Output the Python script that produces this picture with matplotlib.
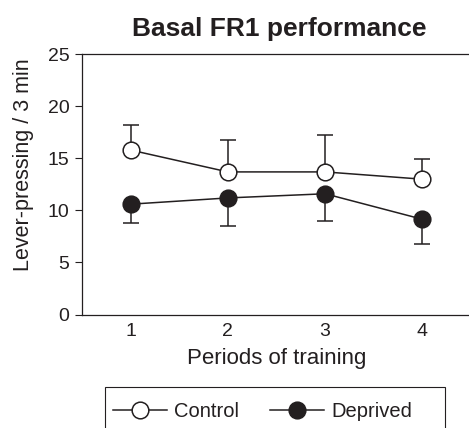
import matplotlib
matplotlib.use("Agg")
from matplotlib import pyplot as plt
from matplotlib.patches import Rectangle

# Data
periods = [1, 2, 3, 4]
control = [15.8, 13.7, 13.7, 13.0]
control_err = [2.4, 3.1, 3.5, 1.9]      # only drawn upward
deprived = [10.6, 11.2, 11.6, 9.15]
deprived_err = [1.8, 2.7, 2.6, 2.35]    # only drawn downward

ink = '#231f20'
plt.rcParams['font.family'] = ['Liberation Sans', 'DejaVu Sans']
plt.rcParams['text.color'] = ink
plt.rcParams['axes.labelcolor'] = ink
plt.rcParams['xtick.color'] = ink
plt.rcParams['ytick.color'] = ink

fig = plt.figure(figsize=(4.69, 4.28), dpi=100)
ax = fig.add_axes([82 / 469, 1 - 314.5 / 428, 389 / 469, 260.2 / 428])

zeros = [0, 0, 0, 0]
ax.errorbar(periods, control, yerr=[zeros, control_err], color=ink, lw=1.1,
            marker='o', ms=12, mfc='white', mec=ink, mew=1.1,
            capsize=6, elinewidth=1.1, capthick=1.1, zorder=3)
ax.errorbar(periods, deprived, yerr=[deprived_err, zeros], color=ink, lw=1.1,
            marker='o', ms=12, mfc=ink, mec=ink, mew=1.1,
            capsize=6, elinewidth=1.1, capthick=1.1, zorder=3)

ax.set_xlim(0.5, 4.5)
ax.set_ylim(0, 25)
ax.set_xticks(periods)
ax.set_yticks([0, 5, 10, 15, 20, 25])
ax.tick_params(axis='x', length=0, pad=6, labelsize=14)
ax.tick_params(axis='y', length=5, width=0.8, pad=4, labelsize=14)
ax.spines['right'].set_visible(False)
for s in ['left', 'top', 'bottom']:
    ax.spines[s].set_linewidth(0.9)
    ax.spines[s].set_color(ink)

ax.set_title('Basal FR1 performance', fontsize=19, fontweight='bold', pad=13, x=(279 - 82) / 389)
ax.set_xlabel('Periods of training', fontsize=16, labelpad=6)
ax.set_ylabel('Lever-pressing / 3 min', fontsize=15.5, labelpad=10)
ax.yaxis.label.set_y(0.575)

# legend box, cut off by the bottom edge like the original
box = Rectangle((104.7 / 469, -0.05), 340.3 / 469, 0.05 + 1 - 386.7 / 428,
                transform=fig.transFigure, fill=False, ec=ink, lw=0.8, clip_on=False)
fig.patches.append(box)

h1 = plt.Line2D([], [], color=ink, lw=1.1, marker='o', ms=12, mfc='white', mec=ink, mew=1.1)
h2 = plt.Line2D([], [], color=ink, lw=1.1, marker='o', ms=12, mfc=ink, mec=ink, mew=1.1)
fig.legend([h1, h2], ['Control', 'Deprived'], loc='center left',
           bbox_to_anchor=(112.7 / 469, 1 - 411.7 / 428), ncol=2, frameon=False,
           fontsize=14.5, handlelength=2.7, handletextpad=0.36, columnspacing=1.5,
           borderpad=0, borderaxespad=0)

fig.savefig('out.png', dpi=100)
